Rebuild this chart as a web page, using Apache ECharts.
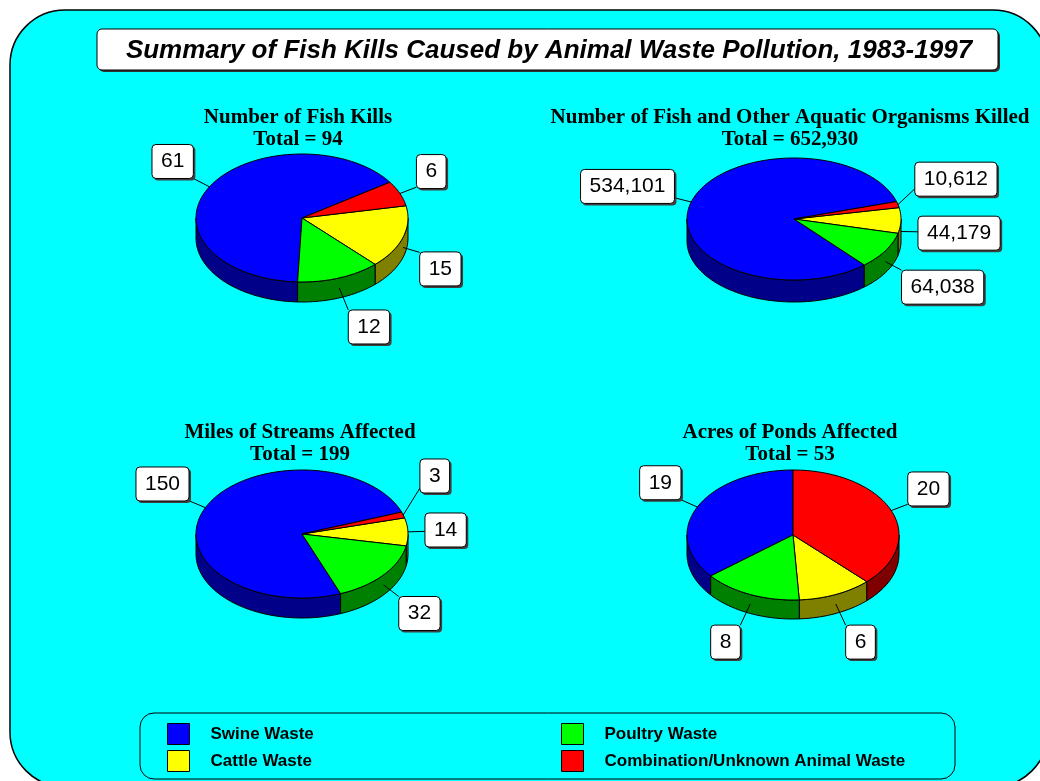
<!DOCTYPE html>
<html>
<head>
<meta charset="utf-8">
<script src="https://cdn.jsdelivr.net/npm/echarts@6/dist/echarts.min.js"></script>
<style>
html,body{margin:0;padding:0;background:#ffffff;}
#chart{width:1040px;height:781px;}
</style>
</head>
<body>
<div id="chart"></div>
<script>
// ---------------- data ----------------
const categories = ['Swine Waste', 'Cattle Waste', 'Poultry Waste', 'Combination/Unknown Animal Waste'];
const fishKills = [61, 15, 12, 6];
const organismsKilled = [534101, 44179, 64038, 10612];
const streamMiles = [150, 14, 32, 3];
const pondAcres = [19, 6, 8, 20];
const chartTitle = 'Summary of Fish Kills Caused by Animal Waste Pollution, 1983-1997';
const pieTitles = [
  'Number of Fish Kills',
  'Number of Fish and Other Aquatic Organisms Killed',
  'Miles of Streams Affected',
  'Acres of Ponds Affected'
];

// ---------------- styles / layout ----------------
const topColors = ['#0000FF', '#FFFF00', '#00FF00', '#FF0000'];
const sideColors = ['#000088', '#808000', '#008000', '#800000'];
const drawOrder = [3, 1, 2, 0]; // clockwise from start angle

const pies = [
  { values: fishKills,       cx: 302, cy: 218, rx: 106, ry: 64, depth: 20, start: -34,   tx: 298, ty: 107 },
  { values: organismsKilled, cx: 794, cy: 219, rx: 107, ry: 61, depth: 22, start: -16.6, tx: 790, ty: 107 },
  { values: streamMiles,     cx: 302, cy: 534, rx: 106, ry: 64, depth: 20, start: -20,   tx: 300, ty: 422 },
  { values: pondAcres,       cx: 793, cy: 535, rx: 106, ry: 65, depth: 19, start: -90,   tx: 790, ty: 422 }
];

const BOX_H = 34, GAP = 20, LLEN_X = 17, LLEN_Y = 26, PADX = 9;
const LABEL_FONT = '21px "Liberation Sans", Arial, sans-serif';
const measureCtx = document.createElement('canvas').getContext('2d');
measureCtx.font = LABEL_FONT;

function fmt(v) { return String(v).replace(/\B(?=(\d{3})+(?!\d))/g, ','); }

function ept(p, deg, dy) {
  const a = deg * Math.PI / 180;
  return [p.cx + p.rx * Math.cos(a), p.cy + p.ry * Math.sin(a) + (dy || 0)];
}

function layoutPie(p) {
  const vals = p.values;
  const total = vals.reduce((s, v) => s + v, 0);
  p.total = total;
  p.slices = [];
  let a = p.start;
  drawOrder.forEach(idx => {
    const sweep = vals[idx] / total * 360;
    const s = { a0: a, a1: a + sweep, mid: a + sweep / 2 };
    a += sweep;
    const m = s.mid * Math.PI / 180;
    const c = Math.cos(m), sn = Math.sin(m);
    const anchor = ept(p, s.mid, sn > 0 ? p.depth / 2 : 0);
    const dx = p.rx * c, dy = p.ry * sn, dl = Math.hypot(dx, dy);
    const ex = anchor[0] + LLEN_X * dx / dl, ey = anchor[1] + LLEN_Y * dy / dl;
    const f = Math.max(0, Math.min(1, 0.5 - (sn > 0 ? 1.6 : 1.2) * sn));
    s.anchor = anchor; s.ex = ex; s.f = f; s.top = ey - f * BOX_H; s.right = c >= 0;
    s.text = fmt(vals[idx]);
    s.w = measureCtx.measureText(s.text).width + 2 * PADX;
    p.slices[idx] = s;
  });
  [true, false].forEach(side => {
    const arr = p.slices.filter(s => s.right === side).sort((u, v) => u.top - v.top);
    for (let k = arr.length - 2; k >= 0; k--) {
      if (arr[k].top + BOX_H + GAP > arr[k + 1].top) arr[k].top = arr[k + 1].top - BOX_H - GAP;
    }
  });
}
pies.forEach(layoutPie);

function makeRenderer(p) {
  return function (params, api) {
    const idx = params.dataIndex;
    const s = p.slices[idx];
    const children = [];
    for (let k = -1; k <= 1; k++) {
      const lo = Math.max(s.a0, 360 * k), hi = Math.min(s.a1, 360 * k + 180);
      if (hi > lo) {
        const pts = [];
        const n = Math.max(2, Math.ceil((hi - lo) / 2));
        for (let j = 0; j <= n; j++) pts.push(ept(p, lo + (hi - lo) * j / n, 0));
        for (let j = n; j >= 0; j--) pts.push(ept(p, lo + (hi - lo) * j / n, p.depth));
        children.push({ type: 'polygon', shape: { points: pts },
          style: { fill: sideColors[idx], stroke: '#000', lineWidth: 1 }, z2: 1 });
      }
    }
    const tp = [[p.cx, p.cy]];
    const n = Math.max(2, Math.ceil((s.a1 - s.a0) / 2));
    for (let j = 0; j <= n; j++) tp.push(ept(p, s.a0 + (s.a1 - s.a0) * j / n, 0));
    children.push({ type: 'polygon', shape: { points: tp },
      style: { fill: topColors[idx], stroke: '#000', lineWidth: 1 }, z2: 2 });

    const ly = s.top + s.f * BOX_H;
    const bx = s.right ? s.ex : s.ex - s.w;
    children.push({ type: 'polyline', shape: { points: [s.anchor, [s.ex, ly]] },
      style: { stroke: '#000', lineWidth: 1, fill: null }, z2: 10 });
    children.push({ type: 'rect', shape: { x: bx + 2, y: s.top + 2, width: s.w, height: BOX_H, r: 4 },
      style: { fill: '#404040' }, z2: 11 });
    children.push({ type: 'rect', shape: { x: bx, y: s.top, width: s.w, height: BOX_H, r: 4 },
      style: { fill: '#ffffff', stroke: '#000', lineWidth: 1 }, z2: 12 });
    children.push({ type: 'text', x: bx + s.w / 2, y: s.top + BOX_H / 2,
      style: { text: s.text, font: LABEL_FONT, fill: '#000', align: 'center', verticalAlign: 'middle' }, z2: 13 });
    return { type: 'group', children: children };
  };
}

const pieSeries = pies.map((p, i) => ({
  type: 'custom',
  name: pieTitles[i],
  coordinateSystem: 'none',
  renderItem: makeRenderer(p),
  data: p.values.map((v, k) => ({ name: categories[k], value: v })),
  silent: true,
  animation: false
}));

const legendSeries = categories.map((c, i) => ({
  type: 'custom',
  name: c,
  coordinateSystem: 'none',
  renderItem: function () { return null; },
  data: [],
  itemStyle: { color: topColors[i], borderColor: '#000', borderWidth: 1 }
}));

const subTitles = pies.map((p, i) => ({
  text: pieTitles[i] + '\nTotal = ' + fmt(p.total),
  left: p.tx, top: p.ty, textAlign: 'center', padding: 0,
  textStyle: { fontFamily: '"Liberation Serif", "Times New Roman", serif', fontWeight: 'bold',
    fontSize: 21, lineHeight: 22, color: '#000' }
}));

const legendCommon = {
  orient: 'vertical', itemWidth: 22, itemHeight: 21, itemGap: 5, icon: 'rect',
  selectedMode: false, padding: 0, top: 723,
  itemStyle: { borderColor: '#000', borderWidth: 1 },
  textStyle: { fontFamily: '"Liberation Sans", Arial, sans-serif', fontWeight: 'bold', fontSize: 17,
    color: '#000', padding: [0, 0, 0, 16] }
};

const option = {
  animation: false,
  backgroundColor: '#ffffff',
  graphic: [
    { type: 'rect', z: -10, shape: { x: 10, y: 10, width: 1038, height: 777, r: 55 },
      style: { fill: '#00FFFF', stroke: '#000', lineWidth: 1.5 } },
    { type: 'rect', z: -5, shape: { x: 99, y: 31, width: 901, height: 41, r: 5 },
      style: { fill: '#333333' } },
    { type: 'rect', z: -4, shape: { x: 97, y: 29, width: 901, height: 41, r: 5 },
      style: { fill: '#ffffff', stroke: '#000', lineWidth: 1 } },
    { type: 'rect', z: -4, shape: { x: 140, y: 713, width: 815, height: 66, r: 14 },
      style: { fill: null, stroke: '#000', lineWidth: 1 } }
  ],
  title: [
    { text: chartTitle, left: 549, top: 37, textAlign: 'center', padding: 0,
      textStyle: { fontFamily: '"Liberation Sans", Arial, sans-serif', fontStyle: 'italic', fontWeight: 'bold',
        fontSize: 26, lineHeight: 27, color: '#000' } }
  ].concat(subTitles),
  legend: [
    Object.assign({}, legendCommon, { left: 167, data: [categories[0], categories[1]] }),
    Object.assign({}, legendCommon, { left: 561, data: [categories[2], categories[3]] })
  ],
  series: pieSeries.concat(legendSeries)
};

const chart = echarts.init(document.getElementById('chart'), null, { renderer: 'canvas' });
chart.setOption(option);
</script>
</body>
</html>
